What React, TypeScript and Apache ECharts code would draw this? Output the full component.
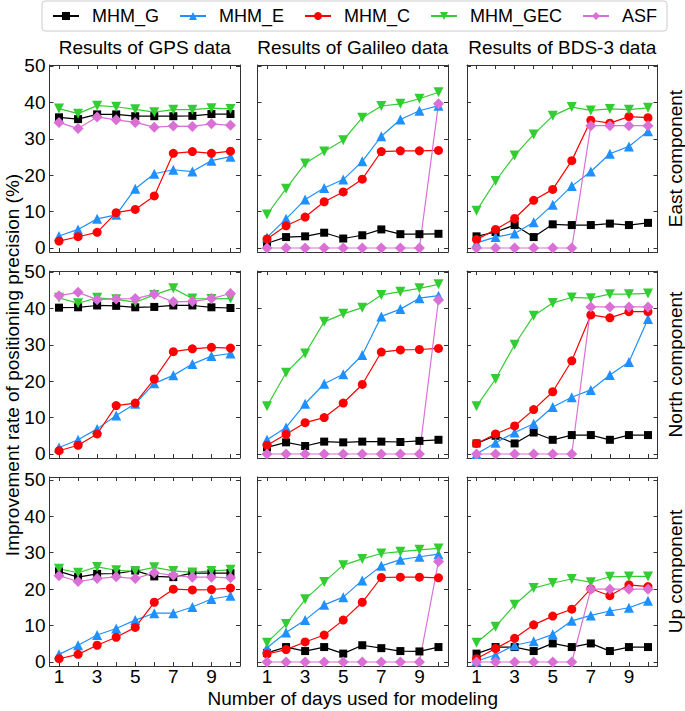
import React, { useEffect, useRef } from 'react';
import * as echarts from 'echarts';

const days = ['1', '2', '3', '4', '5', '6', '7', '8', '9', '10'];
const seriesNames = ['MHM_G', 'MHM_E', 'MHM_C', 'MHM_GEC', 'ASF'];
const columnTitles = ['Results of GPS data', 'Results of Galileo data', 'Results of BDS-3 data'];
const rowLabels = ['East component', 'North component', 'Up component'];
const yTitle = 'Improvement rate of positioning precision (%)';
const xTitle = 'Number of days used for modeling';

// East component
const eastGps_G = [35.9, 35.4, 36.7, 36.7, 36.2, 36.2, 36.2, 36.3, 36.8, 36.8];
const eastGps_E = [3.3, 5.1, 8.0, 9.1, 16.3, 20.4, 21.5, 21.0, 24.0, 25.1];
const eastGps_C = [1.9, 3.1, 4.3, 9.7, 10.6, 14.3, 26.0, 26.5, 26.0, 26.6];
const eastGps_GEC = [38.3, 36.9, 39.1, 38.8, 38.1, 37.3, 38.0, 38.0, 38.4, 38.2];
const eastGps_ASF = [34.5, 32.8, 36.0, 35.2, 34.5, 33.2, 33.5, 33.4, 34.1, 33.7];

const eastGal_G = [1.3, 3.0, 3.2, 4.2, 2.6, 3.5, 5.1, 3.8, 3.8, 3.9];
const eastGal_E = [2.9, 8.0, 13.3, 16.5, 18.8, 23.8, 30.7, 35.3, 37.7, 39.1];
const eastGal_C = [2.5, 6.1, 8.5, 12.7, 15.4, 18.9, 26.5, 26.7, 26.7, 26.8];
const eastGal_GEC = [9.2, 16.3, 23.2, 26.5, 29.6, 35.8, 39.0, 39.6, 41.0, 42.8];
const eastGal_ASF = [0, 0, 0, 0, 0, 0, 0, 0, 0, 39.6];

const eastBds_G = [3.2, 4.4, 6.3, 3.0, 6.5, 6.3, 6.3, 6.7, 6.3, 6.9];
const eastBds_E = [1.4, 3.0, 4.0, 7.1, 11.9, 17.0, 21.0, 25.9, 27.9, 32.1];
const eastBds_C = [2.3, 5.1, 8.1, 13.1, 16.1, 24.0, 35.1, 34.3, 36.1, 35.8];
const eastBds_GEC = [10.2, 18.4, 25.4, 31.2, 36.3, 38.7, 37.8, 38.2, 38.0, 38.5];
const eastBds_ASF = [0, 0, 0, 0, 0, 0, 33.6, 33.6, 33.6, 33.6];

// North component
const northGps_G = [40.2, 40.3, 40.8, 40.7, 40.3, 40.4, 40.8, 40.8, 40.3, 40.1];
const northGps_E = [1.8, 3.9, 6.9, 10.6, 13.8, 19.4, 21.6, 24.7, 26.9, 27.6];
const northGps_C = [0.9, 2.4, 5.5, 13.3, 14.0, 20.6, 28.1, 28.9, 29.3, 29.1];
const northGps_GEC = [42.9, 41.4, 42.9, 42.5, 41.7, 43.7, 45.5, 42.7, 42.6, 42.7];
const northGps_ASF = [43.5, 44.4, 42.4, 42.6, 42.7, 43.9, 41.8, 41.9, 42.7, 44.1];

const northGal_G = [1.8, 3.2, 2.2, 3.4, 3.2, 3.4, 3.4, 3.3, 3.6, 3.9];
const northGal_E = [3.9, 7.3, 13.8, 19.3, 21.9, 27.2, 37.8, 39.8, 42.8, 43.5];
const northGal_C = [2.4, 5.4, 8.6, 10.0, 14.0, 19.1, 28.0, 28.6, 28.7, 29.0];
const northGal_GEC = [13.1, 22.3, 27.6, 36.3, 38.5, 40.2, 43.7, 44.6, 45.5, 46.6];
const northGal_ASF = [0, 0, 0, 0, 0, 0, 0, 0, 0, 42.3];

const northBds_G = [2.9, 5.0, 2.9, 5.9, 3.9, 5.2, 5.2, 3.9, 5.2, 5.2];
const northBds_E = [0.0, 3.1, 5.9, 8.3, 12.9, 15.6, 17.6, 21.7, 25.3, 37.1];
const northBds_C = [2.9, 5.5, 7.7, 12.2, 17.1, 25.6, 38.2, 37.4, 39.1, 39.1];
const northBds_GEC = [13.1, 20.6, 30.0, 38.0, 41.5, 43.0, 42.8, 43.9, 43.9, 44.1];
const northBds_ASF = [0, 0, 0, 0, 0, 0, 40.4, 40.4, 40.4, 40.4];

// Up component
const upGps_G = [24.9, 23.3, 24.2, 24.3, 25.1, 23.5, 23.3, 24.4, 24.4, 24.4];
const upGps_E = [2.1, 4.6, 7.4, 9.2, 11.5, 13.4, 13.4, 15.1, 17.3, 18.2];
const upGps_C = [0.9, 2.1, 4.6, 6.8, 9.5, 16.4, 20.0, 19.8, 19.9, 20.3];
const upGps_GEC = [25.6, 24.5, 26.1, 25.2, 24.9, 26.0, 25.0, 24.6, 25.0, 25.3];
const upGps_ASF = [23.7, 22.1, 22.9, 23.4, 22.9, 24.5, 23.8, 23.3, 23.3, 23.1];

const upGal_G = [2.5, 4.1, 3.0, 4.1, 2.3, 4.6, 3.8, 3.0, 2.9, 4.1];
const upGal_E = [3.9, 8.1, 11.5, 15.7, 17.8, 22.4, 26.4, 28.1, 28.9, 29.6];
const upGal_C = [2.2, 3.4, 5.5, 7.4, 11.5, 16.4, 23.2, 23.3, 23.3, 23.1];
const upGal_GEC = [5.3, 10.4, 17.2, 22.0, 26.6, 28.3, 29.8, 30.3, 30.8, 31.2];
const upGal_ASF = [0, 0, 0, 0, 0, 0, 0, 0, 0, 27.6];

const upBds_G = [2.3, 4.1, 4.1, 3.0, 5.1, 4.1, 5.1, 3.0, 4.1, 4.1];
const upBds_E = [0.2, 2.0, 4.6, 5.7, 7.6, 11.3, 12.8, 14.0, 14.9, 16.8];
const upBds_C = [0.9, 3.7, 6.5, 10.2, 12.6, 14.5, 20.1, 18.2, 21.2, 20.7];
const upBds_GEC = [5.3, 9.7, 15.7, 20.3, 21.7, 22.8, 21.9, 23.4, 23.5, 23.5];
const upBds_ASF = [0, 0, 0, 0, 0, 0, 20.0, 20.0, 20.0, 20.0];

const panels = [
  [
    [eastGps_G, eastGps_E, eastGps_C, eastGps_GEC, eastGps_ASF],
    [eastGal_G, eastGal_E, eastGal_C, eastGal_GEC, eastGal_ASF],
    [eastBds_G, eastBds_E, eastBds_C, eastBds_GEC, eastBds_ASF],
  ],
  [
    [northGps_G, northGps_E, northGps_C, northGps_GEC, northGps_ASF],
    [northGal_G, northGal_E, northGal_C, northGal_GEC, northGal_ASF],
    [northBds_G, northBds_E, northBds_C, northBds_GEC, northBds_ASF],
  ],
  [
    [upGps_G, upGps_E, upGps_C, upGps_GEC, upGps_ASF],
    [upGal_G, upGal_E, upGal_C, upGal_GEC, upGal_ASF],
    [upBds_G, upBds_E, upBds_C, upBds_GEC, upBds_ASF],
  ],
];

const FONT = "'Liberation Sans', Arial, sans-serif";
const colors = ['#000000', '#1E90FF', '#FF0000', '#32CD32', '#DA70D6'];
const symbols = ['rect', 'triangle', 'circle', 'triangle', 'diamond'];
const symbolRotates = [0, 0, 0, 180, 0];
const symbolSizes = [8, 10, 9, 10, 11];

const colLeft = [49.5, 257.5, 467];
const colWidth = 190.5;
const rowTop = [65, 271, 477];
const rowHeight = [187, 187, 189];
const yMin = -1.1;
const yMax = [50.27, 50.27, 50.8];
const frameColor = '#333';

export default function App() {
  const ref = useRef<HTMLDivElement>(null);
  useEffect(() => {
    if (!ref.current) return;
    const chart = echarts.init(ref.current, null, { renderer: 'svg' });
    const grid: any[] = [];
    const xAxis: any[] = [];
    const yAxis: any[] = [];
    const series: any[] = [];
    for (let r = 0; r < 3; r++) {
      for (let c = 0; c < 3; c++) {
        const gi = grid.length;
        grid.push({ left: colLeft[c], top: rowTop[r], width: colWidth, height: rowHeight[r], containLabel: false });
        const baseX = {
          type: 'category',
          data: days,
          gridIndex: gi,
          boundaryGap: true,
          axisLine: { show: true, onZero: false, lineStyle: { color: frameColor, width: 1 } },
          axisTick: { show: true, inside: true, alignWithLabel: true, interval: 0, length: 4, lineStyle: { color: frameColor } },
          splitLine: { show: false },
        };
        xAxis.push({
          ...baseX,
          position: 'bottom',
          axisLabel: {
            show: r === 2, interval: 1, fontSize: 19, fontFamily: FONT, color: '#000',
            margin: 3, lineHeight: 15,
          },
        });
        xAxis.push({ ...baseX, position: 'top', axisLabel: { show: false } });
        const baseY = {
          type: 'value',
          gridIndex: gi,
          min: yMin,
          max: yMax[r],
          axisLine: { show: true, lineStyle: { color: frameColor, width: 1 } },
          axisTick: { show: true, inside: true, length: 4, lineStyle: { color: frameColor } },
          splitLine: { show: false },
        };
        yAxis.push({
          ...baseY,
          position: 'left',
          axisLabel: {
            show: c === 0, showMinLabel: false, showMaxLabel: false,
            fontSize: 19, fontFamily: FONT, color: '#000', margin: 4,
          },
        });
        yAxis.push({ ...baseY, position: 'right', axisLabel: { show: false } });
        const vals = panels[r][c];
        for (let s = 0; s < 5; s++) {
          series.push({
            name: seriesNames[s],
            type: 'line',
            xAxisIndex: 2 * gi,
            yAxisIndex: 2 * gi,
            data: vals[s],
            symbol: symbols[s],
            symbolRotate: symbolRotates[s],
            symbolSize: symbolSizes[s],
            showAllSymbol: true,
            lineStyle: { color: colors[s], width: 1.2 },
            itemStyle: { color: colors[s] },
            emphasis: { disabled: true },
          });
        }
      }
    }
    const graphic: any[] = [];
    for (let c = 0; c < 3; c++) {
      graphic.push({
        type: 'text',
        x: colLeft[c] + colWidth / 2,
        y: 47,
        style: { text: columnTitles[c], font: `19px ${FONT}`, fill: '#000', align: 'center', verticalAlign: 'middle' },
      });
    }
    for (let r = 0; r < 3; r++) {
      graphic.push({
        type: 'text',
        x: 675,
        y: rowTop[r] + rowHeight[r] / 2,
        rotation: Math.PI / 2,
        style: { text: rowLabels[r], font: `19px ${FONT}`, fill: '#000', align: 'center', verticalAlign: 'middle' },
      });
    }
    graphic.push({
      type: 'text',
      x: 12,
      y: 365,
      rotation: Math.PI / 2,
      style: { text: yTitle, font: `19px ${FONT}`, fill: '#000', align: 'center', verticalAlign: 'middle' },
    });
    graphic.push({
      type: 'text',
      x: colLeft[1] + colWidth / 2,
      y: 698,
      style: {
        text: xTitle, font: `19px ${FONT}`, fill: '#000', align: 'center', verticalAlign: 'middle',
        lineHeight: 15,
      },
    });

    chart.setOption({
      animation: false,
      backgroundColor: '#fff',
      legend: {
        data: seriesNames,
        left: 42,
        top: 1,
        itemWidth: 26,
        itemHeight: 10,
        itemGap: 20,
        padding: [6, 10, 6, 10],
        borderColor: '#ccc',
        borderWidth: 1,
        borderRadius: 3,
        textStyle: { fontSize: 18, fontFamily: FONT, color: '#000', padding: [0, 0, 0, 8] },
      },
      grid,
      xAxis,
      yAxis,
      series,
      graphic,
    });
    return () => chart.dispose();
  }, []);
  return <div ref={ref} style={{ position: 'fixed', left: 0, top: 0, width: 685, height: 711 }} />;
}
